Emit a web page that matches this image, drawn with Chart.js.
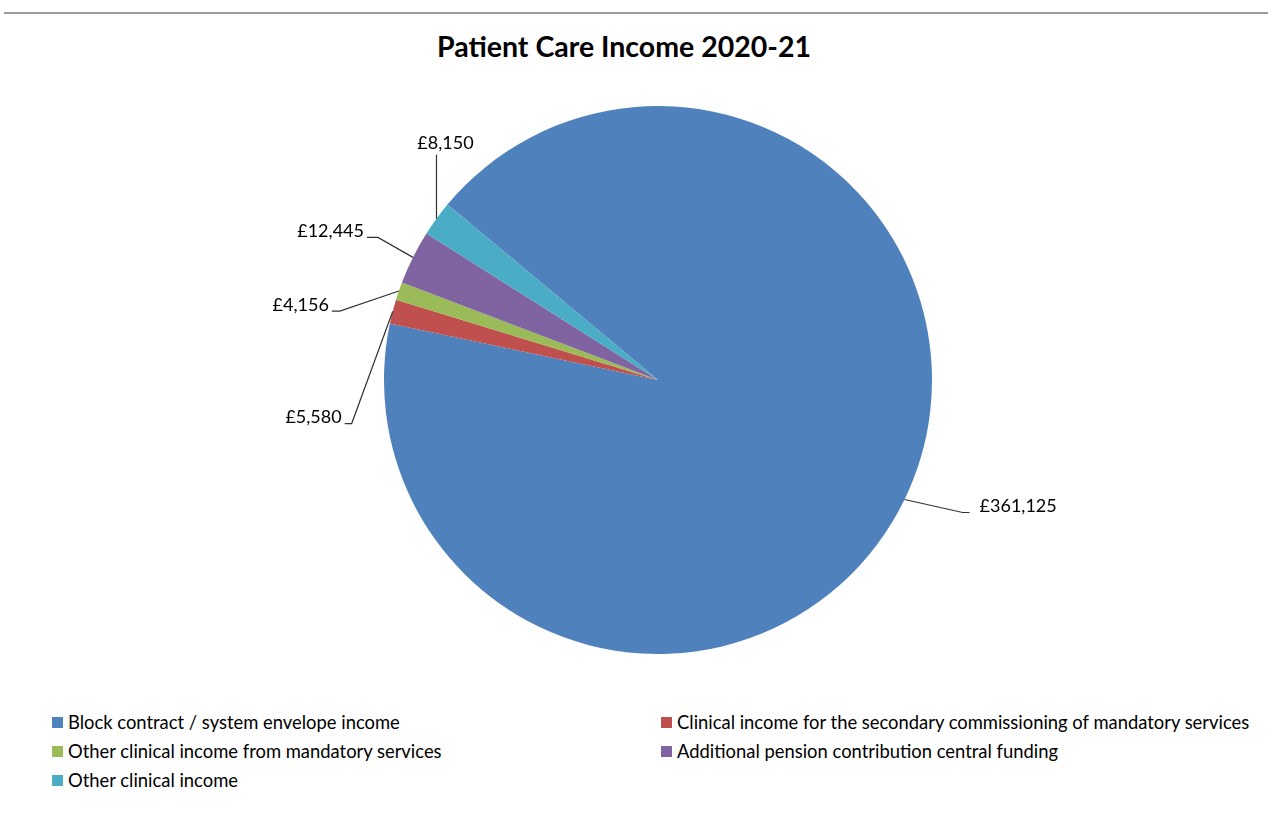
<!DOCTYPE html>
<html>
<head>
<meta charset="utf-8">
<title>Patient Care Income 2020-21</title>
<script src="https://cdn.jsdelivr.net/npm/chart.js@4.4.1/dist/chart.umd.min.js"></script>
<style>
  html, body { margin: 0; padding: 0; background: #fff; }
  body { width: 1268px; height: 819px; position: relative; overflow: hidden; font-family: Lato, "Open Sans", sans-serif; }
  .rule { position: absolute; left: 4px; right: 0; top: 12px; height: 2px; background: #9c9c9c; }
  .title { position: absolute; left: 0; width: 1248px; top: 29px; text-align: center; font-size: 28.5px; font-weight: bold; color: #000; }
  .wrap { position: absolute; left: 0; top: 0; width: 1268px; height: 700px; }
  .legend { position: absolute; left: 52px; top: 711px; display: grid; grid-template-columns: 609px 600px; row-gap: 7px; font-size: 18.4px; color: #000; }
  .legend div { display: flex; align-items: center; height: 22px; white-space: nowrap; }
  .legend span.box { display: inline-block; width: 11px; height: 11px; margin-right: 5px; }
</style>
</head>
<body>
<div class="rule"></div>
<div class="title">Patient Care Income 2020-21</div>
<div class="wrap"><canvas id="pie"></canvas></div>
<div class="legend" id="legend"></div>
<script>
// data
const categories = [
  'Block contract / system envelope income',
  'Clinical income for the secondary commissioning of mandatory services',
  'Other clinical income from mandatory services',
  'Additional pension contribution central funding',
  'Other clinical income'
];
const incomeValues = [361125, 5580, 4156, 12445, 8150];
const sliceColors = ['#4F81BD', '#C0504D', '#9BBB59', '#8064A2', '#4BACC6'];

// where each data label sits relative to its slice edge (elbow offset, tail)
const labelOffsets = [
  { dx: 58, dy: 13, tail: 7 },
  { dx: -41, dy: 112, tail: -7 },
  { dx: -59, dy: 20, tail: -8 },
  { dx: -35, dy: -20, tail: -11 },
  { dx: 0, dy: -64, tail: 0 }
];

function fmt(v){
  return '£' + v.toLocaleString('en-GB');
}

const leaderLabels = {
  id: 'leaderLabels',
  afterDatasetsDraw(chart){
    const ctx = chart.ctx;
    const meta = chart.getDatasetMeta(0);
    ctx.save();
    ctx.font = '18px Lato, "Open Sans", sans-serif';
    ctx.fillStyle = '#000';
    ctx.strokeStyle = '#333';
    ctx.lineWidth = 1.2;
    meta.data.forEach(function(arc, i){
      const p = arc.getProps(['x', 'y', 'startAngle', 'endAngle', 'outerRadius'], true);
      const mid = (p.startAngle + p.endAngle) / 2;
      const ex = p.x + Math.cos(mid) * p.outerRadius;
      const ey = p.y + Math.sin(mid) * p.outerRadius;
      const off = labelOffsets[i];
      const bx = ex + off.dx;
      const by = ey + off.dy;
      const tx = bx + off.tail;
      ctx.beginPath();
      ctx.moveTo(ex, ey);
      ctx.lineTo(bx, by);
      ctx.lineTo(tx, by);
      ctx.stroke();
      const text = fmt(incomeValues[i]);
      ctx.textBaseline = 'middle';
      if (off.tail === 0) {
        ctx.textAlign = 'center';
        ctx.fillText(text, tx + 9, by - 12);
      } else if (off.tail > 0) {
        ctx.textAlign = 'left';
        ctx.fillText(text, tx + 10, by - 6);
      } else {
        ctx.textAlign = 'right';
        ctx.fillText(text, tx - 3, by - 6);
      }
    });
    ctx.restore();
  }
};

const chart = new Chart(document.getElementById('pie'), {
  type: 'pie',
  data: {
    labels: categories,
    datasets: [{
      data: incomeValues,
      backgroundColor: sliceColors,
      borderWidth: 0
    }]
  },
  options: {
    responsive: true,
    maintainAspectRatio: false,
    animation: false,
    rotation: -50.2,
    layout: { padding: { top: 106, bottom: 46, left: 100, right: 52 } },
    plugins: {
      legend: { display: false },
      tooltip: { enabled: false }
    }
  },
  plugins: [leaderLabels]
});

// legend in two columns, row by row like the original
const legendEl = document.getElementById('legend');
categories.forEach(function(name, i){
  const item = document.createElement('div');
  const box = document.createElement('span');
  box.className = 'box';
  box.style.background = sliceColors[i];
  const txt = document.createElement('span');
  txt.textContent = name;
  item.appendChild(box);
  item.appendChild(txt);
  legendEl.appendChild(item);
});
</script>
</body>
</html>
